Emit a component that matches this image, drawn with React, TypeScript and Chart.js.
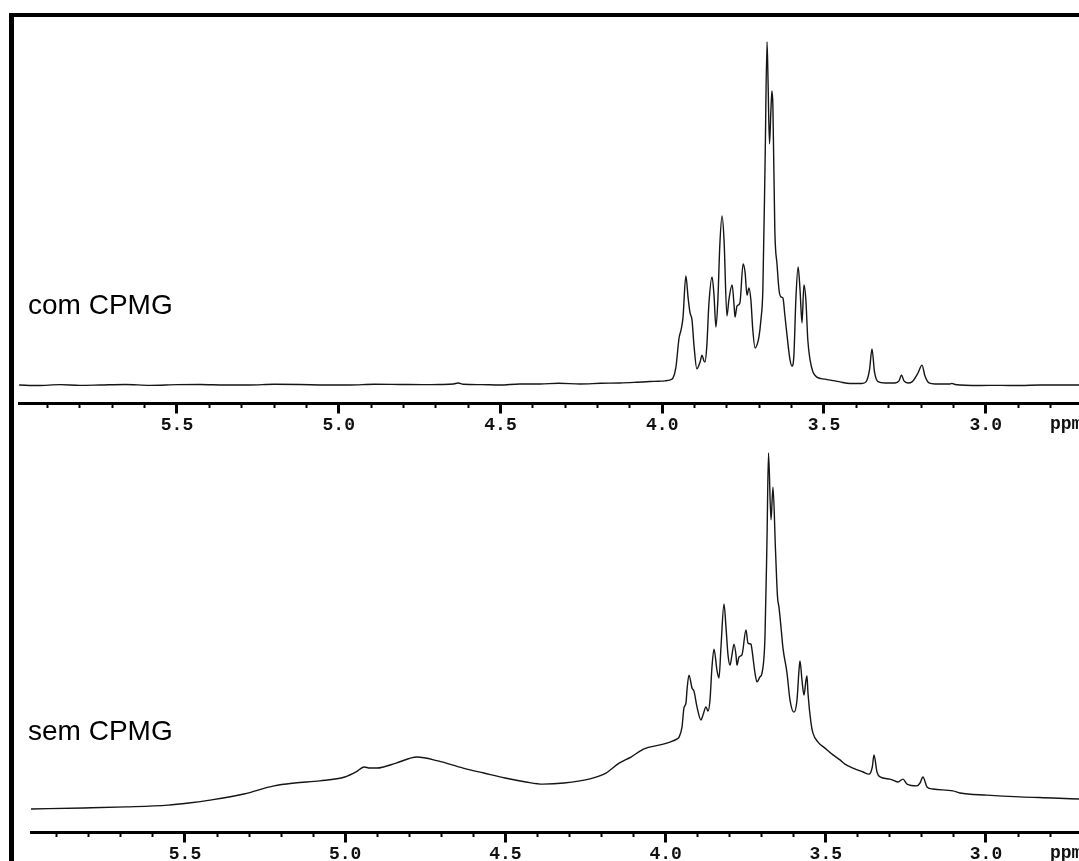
import React, { useEffect, useRef } from 'react';
import { Chart, registerables } from 'chart.js';

Chart.register(...registerables);

// ---- tick labels ----
const majorTickLabels = ['5.5', '5.0', '4.5', '4.0', '3.5', '3.0'];
const axisUnit = 'ppm';
const panelLabels = ['com CPMG', 'sem CPMG'];

// ---- "com CPMG" spectrum (chemical shift, relative intensity) ----
const topPpm = [
  5.988, 5.93, 5.862, 5.8, 5.738, 5.66, 5.583, 5.5, 5.429, 5.35, 5.274, 5.2, 5.12, 5.04, 4.965, 4.89, 4.811, 4.74,
  4.687, 4.645, 4.631, 4.615, 4.56, 4.502, 4.44, 4.378, 4.32, 4.254, 4.19, 4.131, 4.08, 4.038, 4.01, 3.992, 3.975,
  3.967, 3.958, 3.948, 3.942, 3.936, 3.927, 3.92, 3.914, 3.908, 3.902, 3.893, 3.883, 3.877, 3.871, 3.868, 3.862,
  3.856, 3.846, 3.84, 3.834, 3.828, 3.822, 3.815, 3.809, 3.8, 3.794, 3.784, 3.778, 3.775, 3.769, 3.76, 3.75, 3.744,
  3.738, 3.732, 3.726, 3.72, 3.713, 3.707, 3.701, 3.695, 3.689, 3.682, 3.676, 3.673, 3.6685, 3.664, 3.661, 3.658,
  3.652, 3.645, 3.639, 3.633, 3.627, 3.621, 3.611, 3.605, 3.599, 3.593, 3.587, 3.58, 3.574, 3.568, 3.562, 3.556,
  3.55, 3.543, 3.534, 3.522, 3.497, 3.466, 3.4505, 3.4196, 3.3825, 3.3702, 3.3593, 3.3516, 3.3439, 3.3331, 3.3114,
  3.2805, 3.2682, 3.2604, 3.2527, 3.2403, 3.228, 3.2094, 3.1971, 3.1878, 3.1754, 3.1569, 3.1105, 3.1043, 3.095,
  3.0178, 2.9559, 2.8941, 2.8323, 2.7705, 2.7117,
];
const topIntensity = [
  0, -0.15, 0.1, -0.1, 0, 0.15, -0.1, 0.1, 0.15, 0, 0, 0.2, 0.15, 0, 0, 0.2, 0.15, 0.1,
  0.15, 0.3, 0.6, 0.2, 0.1, 0, 0.3, 0.3, 0.5, 0.3, 0.5, 0.6, 0.8, 1.0, 1.1, 1.2, 1.5,
  2.0, 5.0, 13.7, 16.0, 19.5, 31.8, 25.4, 21.0, 19.0, 11.7, 4.7, 6.7, 8.7, 7.0, 6.7, 11.7,
  23.3, 31.5, 26.2, 16.9, 24.8, 40.8, 49.3, 42.3, 20.1, 24.8, 29.2, 23.3, 19.8, 23.0, 23.9, 35.3, 32.9,
  26.2, 28.3, 24.8, 16.0, 10.8, 11.7, 14.0, 19.0, 27.7, 65.6, 100, 88.9, 70.3, 80.2, 85.7, 81.6,
  45.2, 35.0, 27.7, 25.7, 25.4, 20.4, 11.7, 7.3, 5.5, 8.7, 24.8, 34.4, 27.7, 18.1, 29.2, 24.8,
  13.1, 7.3, 3.8, 2.3, 1.7, 1.2, 0.9, 0.45, 0.45, 0.9, 4.4, 10.5, 3.8, 1.0, 0.6,
  0.6, 1.2, 2.9, 1.2, 0.6, 0.9, 3.5, 5.8, 2.6, 0.6, 0.3, 0.3, 0.45, 0.15,
  -0.15, -0.1, -0.15, 0, 0, 0,
];

// ---- "sem CPMG" spectrum (chemical shift, relative intensity) ----
const bottomPpm = [
  5.981, 5.815, 5.684, 5.553, 5.488, 5.422, 5.316, 5.222, 5.157, 5.079, 5.001, 4.966, 4.941, 4.923, 4.901, 4.841,
  4.776, 4.71, 4.632, 4.567, 4.501, 4.436, 4.383, 4.317, 4.239, 4.186, 4.145, 4.108, 4.067, 4.017, 3.986, 3.964,
  3.958, 3.9488, 3.9426, 3.9363, 3.9332, 3.927, 3.9176, 3.9114, 3.902, 3.8895, 3.8833, 3.8739, 3.8677, 3.8614,
  3.8552, 3.8489, 3.8396, 3.8333, 3.8271, 3.8177, 3.8115, 3.8052, 3.799, 3.7928, 3.7865, 3.7803, 3.7772, 3.7709,
  3.7616, 3.7491, 3.7428, 3.7335, 3.7303, 3.721, 3.7147, 3.7054, 3.6991, 3.6898, 3.6835, 3.6788, 3.671, 3.6648,
  3.657, 3.6507, 3.6461, 3.6398, 3.6336, 3.6211, 3.6117, 3.5992, 3.5899, 3.5836, 3.5805, 3.5743, 3.568, 3.5618,
  3.5587, 3.5556, 3.5462, 3.54, 3.5243, 3.5025, 3.4775, 3.4557, 3.4401, 3.4151, 3.3839, 3.3652, 3.3548, 3.3496,
  3.3402, 3.3308, 3.2996, 3.2747, 3.259, 3.2466, 3.2154, 3.206, 3.1966, 3.1841, 3.1654, 3.103, 3.0811, 2.9969,
  2.8939, 2.7909, 2.7097,
];
const bottomIntensity = [
  0, 0.3, 0.6, 1.1, 1.7, 2.5, 4.2, 6.5, 7.3, 7.9, 9.0, 10.4, 11.8, 11.5, 11.5, 12.9,
  14.6, 13.5, 11.5, 10.1, 8.7, 7.6, 7.0, 7.3, 8.4, 10.1, 12.9, 14.6, 16.9, 18.0, 18.8, 19.7,
  20.2, 23.0, 28.4, 29.8, 33.4, 37.6, 34.0, 33.1, 28.7, 25.0, 26.4, 28.7, 27.5, 30.6,
  39.9, 44.9, 39.0, 36.8, 45.5, 57.6, 51.1, 43.3, 40.4, 43.3, 46.3, 43.3, 40.4, 42.7,
  43.3, 50.3, 46.6, 46.3, 44.7, 38.2, 35.7, 37.1, 38.2, 48.3, 75.6, 100, 81.2, 90.4,
  72.8, 59.6, 56.7, 51.1, 45.2, 38.2, 30.6, 27.2, 30.6, 39.0, 41.6, 36.2, 32.0, 36.2,
  37.4, 32.6, 24.2, 21.3, 18.8, 17.1, 15.2, 13.8, 12.6, 11.5, 10.4, 9.8, 11.8, 15.2,
  10.4, 9.0, 8.4, 7.6, 8.4, 7.0, 6.5, 7.3, 9.0, 6.2, 5.6, 5.1, 4.5, 3.9,
  3.4, 3.1, 2.8,
];

const isMajor = (c: any) =>
  !!(c && c.tick && majorTickLabels.includes(Number(c.tick.value).toFixed(1)));

type PanelProps = {
  ppm: number[];
  intensity: number[];
  xMin: number;
  xMax: number;
  yMin: number;
  yMax: number;
  top: number;
  padLeft: number;
  padTop: number;
  padBottom: number;
};

function Panel(p: PanelProps) {
  const ref = useRef<HTMLCanvasElement | null>(null);
  useEffect(() => {
    if (!ref.current) return;
    const points = p.ppm.map((x, i) => ({ x, y: p.intensity[i] }));
    const chart = new Chart(ref.current, {
      type: 'line',
      data: {
        datasets: [
          {
            data: points,
            borderColor: '#151515',
            borderWidth: 1.4,
            pointRadius: 0,
            cubicInterpolationMode: 'monotone',
            fill: false,
            borderJoinStyle: 'round',
          },
        ],
      },
      options: {
        animation: false,
        responsive: false,
        maintainAspectRatio: false,
        devicePixelRatio: 1,
        layout: { padding: { left: p.padLeft, right: 0, top: p.padTop, bottom: p.padBottom } },
        plugins: { legend: { display: false }, tooltip: { enabled: false }, title: { display: false } },
        events: [],
        scales: {
          x: {
            type: 'linear',
            reverse: true,
            min: p.xMin,
            max: p.xMax,
            border: { display: true, color: '#000', width: 3 },
            grid: {
              drawOnChartArea: false,
              drawTicks: true,
              tickLength: 10,
              tickColor: '#000',
              tickWidth: (c: any) => (isMajor(c) ? 3 : 2),
              tickBorderDash: (c: any) => (isMajor(c) ? [] : [3, 40]),
            },
            ticks: {
              stepSize: 0.1,
              includeBounds: false,
              autoSkip: false,
              maxRotation: 0,
              minRotation: 0,
              padding: 1,
              color: '#111',
              font: {
                family: '"Liberation Mono", "DejaVu Sans Mono", monospace',
                size: 18,
                weight: 'bold',
                lineHeight: 1.2,
              },
              callback: (v: any) => {
                const s = Number(v).toFixed(1);
                return majorTickLabels.includes(s) ? s : '';
              },
            },
            afterFit: (s: any) => {
              s.height = 36;
            },
          },
          y: { display: false, min: p.yMin, max: p.yMax },
        },
      },
    } as any);
    return () => chart.destroy();
  }, []);
  return (
    <canvas
      ref={ref}
      width={1079}
      height={440}
      style={{ position: 'absolute', left: 0, top: p.top, width: 1079, height: 440 }}
    />
  );
}

const labelStyle: React.CSSProperties = {
  position: 'absolute',
  left: 28,
  fontFamily: '"Liberation Sans", Arial, sans-serif',
  fontSize: 28,
  lineHeight: 1,
  color: '#000',
  whiteSpace: 'nowrap',
};

const unitStyle: React.CSSProperties = {
  position: 'absolute',
  left: 1050,
  fontFamily: '"Liberation Mono", "DejaVu Sans Mono", monospace',
  fontWeight: 'bold',
  fontSize: 18,
  lineHeight: 1,
  color: '#111',
  whiteSpace: 'nowrap',
};

export default function App() {
  return (
    <div
      style={{
        position: 'fixed',
        left: 0,
        top: 0,
        width: 1079,
        height: 861,
        overflow: 'hidden',
        background: '#fff',
      }}
    >
      <div
        style={{
          position: 'absolute',
          left: 9,
          top: 13,
          width: 1070,
          height: 848,
          borderTop: '4px solid #000',
          borderLeft: '5px solid #000',
          boxSizing: 'border-box',
        }}
      />
      <Panel
        ppm={topPpm}
        intensity={topIntensity}
        xMin={2.7117}
        xMax={5.9884}
        yMin={-5.394}
        yMax={106.41}
        top={0}
        padLeft={19}
        padTop={20}
        padBottom={0.5}
      />
      <Panel
        ppm={bottomPpm}
        intensity={bottomIntensity}
        xMin={2.7097}
        xMax={5.9806}
        yMin={-6.601}
        yMax={103.65}
        top={430}
        padLeft={31}
        padTop={10}
        padBottom={1.5}
      />
      <div style={{ ...labelStyle, top: 291 }}>{panelLabels[0]}</div>
      <div style={{ ...labelStyle, top: 717 }}>{panelLabels[1]}</div>
      <div style={{ ...unitStyle, top: 415 }}>{axisUnit}</div>
      <div style={{ ...unitStyle, top: 844 }}>{axisUnit}</div>
    </div>
  );
}
